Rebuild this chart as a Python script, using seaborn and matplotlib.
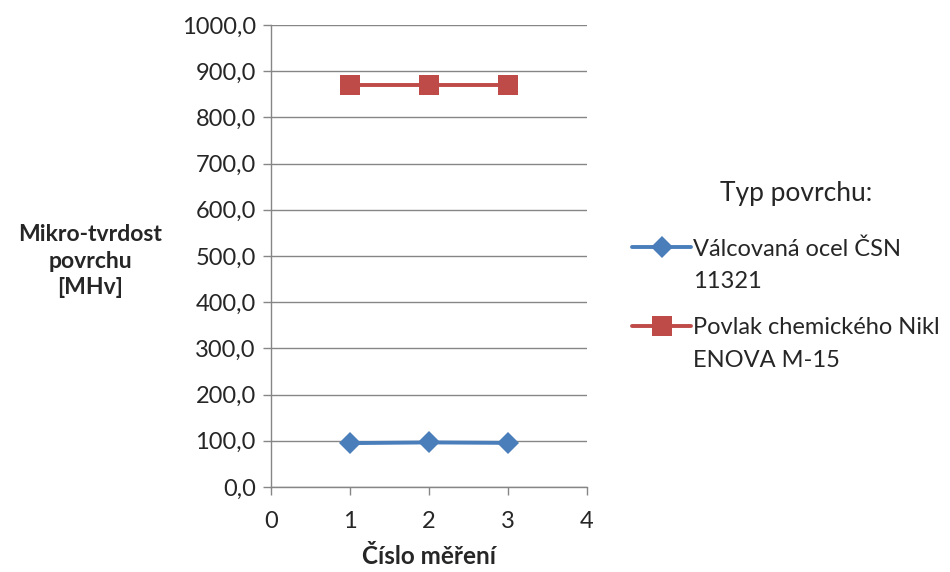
import matplotlib
matplotlib.use("Agg")
import matplotlib.pyplot as plt
import seaborn as sns
import pandas as pd
from matplotlib.ticker import FuncFormatter
from matplotlib.transforms import IdentityTransform

measurement = [1, 2, 3]
steel = [95.0, 96.5, 95.5]
nickel = [870.0, 870.0, 870.0]
series_first = ["Válcovaná ocel ČSN", "Povlak chemického Nikl"]
series_second = ["11321", "ENOVA M-15"]
legend_title = "Typ povrchu:"

sns.set_theme(style="white")
plt.rcParams['font.family'] = ['Lato', 'DejaVu Sans']

df = pd.DataFrame({
    "x": measurement * 2,
    "y": steel + nickel,
    "s": [series_first[0]] * 3 + [series_first[1]] * 3,
})

W, H = 950, 572
fig = plt.figure(figsize=(9.5, 5.72), dpi=100)
ax = fig.add_axes([271 / W, 1 - 487 / H, (587 - 271) / W, (487 - 25) / H])

colors = {series_first[0]: "#4a7ebb", series_first[1]: "#be4b48"}
markers = {series_first[0]: "D", series_first[1]: "s"}
sns.lineplot(data=df, x="x", y="y", hue="s", style="s", palette=colors,
             markers=markers, dashes=False, linewidth=2.8, markersize=12,
             markeredgewidth=0, ax=ax, legend=False, zorder=3)
ax.lines[0].set_markersize(11)
ax.lines[1].set_markersize(14)

ax.set_xlim(0, 4)
ax.set_ylim(0, 1000)
ax.set_xticks([0, 1, 2, 3, 4])
ax.set_yticks(range(0, 1001, 100))
ax.yaxis.set_major_formatter(FuncFormatter(lambda v, p: f"{v:.1f}".replace(".", ",")))
ax.grid(axis="y", color="#868686", linewidth=1)
ax.grid(axis="x", visible=False)
for side in ["top", "right"]:
    ax.spines[side].set_visible(False)
for side in ["left", "bottom"]:
    ax.spines[side].set_color("#868686")
    ax.spines[side].set_linewidth(1)
ax.tick_params(axis="both", which="major", length=6, width=1, color="#868686",
               direction="out", labelsize=17, left=True, bottom=True)
ax.tick_params(axis="y", pad=5)
ax.tick_params(axis="x", pad=11)
ax.set_xlabel("Číslo měření", fontsize=17.5, fontweight="bold", labelpad=10)
ax.set_ylabel("")
fig.text(90 / W, 1 - 261 / H, "Mikro-tvrdost\npovrchu\n[MHv]", ha="center", va="center",
         fontsize=16.5, fontweight="bold", linespacing=1.35)

fig.text(796 / W, 1 - 193 / H, legend_title, ha="center", va="center", fontsize=19)

leg = ax.legend(ax.lines[:2], series_first, loc="upper left",
                bbox_to_anchor=(632 / W, 1 - 238 / H), bbox_transform=fig.transFigure,
                borderaxespad=0, borderpad=0, frameon=False, fontsize=17,
                handlelength=2.5, handletextpad=0.1, labelspacing=2.45)

fig.canvas.draw()
for t, extra in zip(leg.get_texts(), series_second):
    bb = t.get_window_extent()
    fig.text(bb.x0, bb.y0 - 33, extra, fontsize=17, ha="left", va="bottom",
             transform=IdentityTransform())

fig.savefig("out.png", dpi=100)
